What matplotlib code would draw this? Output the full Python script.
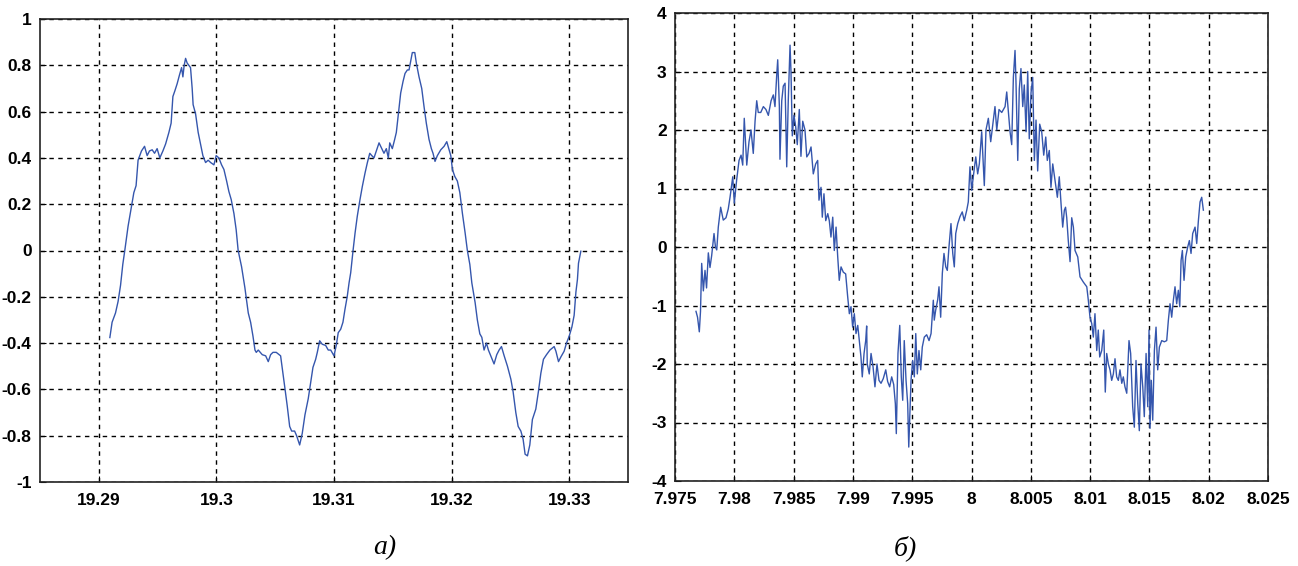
import matplotlib
matplotlib.use("Agg")
import matplotlib.pyplot as plt

# ---------------- data: panel a) ----------------
a_time = [19.29094, 19.29113, 19.29142, 19.29164, 19.29185, 19.29204, 19.29221, 19.29249, 19.29278, 19.29298,
          19.29317, 19.29334, 19.29363, 19.29389, 19.29411, 19.29431, 19.29454, 19.29474, 19.29496, 19.29519,
          19.29545, 19.29568, 19.29596, 19.29615, 19.29630, 19.29647, 19.29666, 19.29687, 19.29704, 19.29715,
          19.29726, 19.29738, 19.29751, 19.29780, 19.29794, 19.29802, 19.29823, 19.29845, 19.29865, 19.29885,
          19.29908, 19.29930, 19.29951, 19.29979, 19.29998, 19.30021, 19.30044, 19.30064, 19.30087, 19.30106,
          19.30126, 19.30149, 19.30168, 19.30185, 19.30214, 19.30242, 19.30271, 19.30291, 19.30311, 19.30328,
          19.30339, 19.30356, 19.30390, 19.30419, 19.30441, 19.30461, 19.30481, 19.30509, 19.30546, 19.30560,
          19.30580, 19.30602, 19.30623, 19.30640, 19.30665, 19.30682, 19.30708, 19.30730, 19.30753, 19.30781,
          19.30802, 19.30821, 19.30844, 19.30858, 19.30878, 19.30900, 19.30929, 19.30951, 19.30972, 19.31000,
          19.31019, 19.31036, 19.31057, 19.31076, 19.31093, 19.31113, 19.31128, 19.31142, 19.31162, 19.31179,
          19.31198, 19.31221, 19.31241, 19.31264, 19.31283, 19.31304, 19.31321, 19.31340, 19.31360, 19.31383,
          19.31406, 19.31425, 19.31445, 19.31462, 19.31474, 19.31496, 19.31516, 19.31530, 19.31547, 19.31567,
          19.31587, 19.31604, 19.31624, 19.31638, 19.31653, 19.31666, 19.31687, 19.31700, 19.31723, 19.31746,
          19.31766, 19.31785, 19.31808, 19.31828, 19.31842, 19.31859, 19.31879, 19.31908, 19.31936, 19.31959,
          19.31979, 19.31993, 19.32007, 19.32027, 19.32049, 19.32070, 19.32092, 19.32115, 19.32134, 19.32155,
          19.32172, 19.32200, 19.32219, 19.32240, 19.32257, 19.32276, 19.32296, 19.32313, 19.32333, 19.32361,
          19.32384, 19.32404, 19.32424, 19.32447, 19.32475, 19.32504, 19.32523, 19.32546, 19.32566, 19.32589,
          19.32608, 19.32625, 19.32645, 19.32665, 19.32687, 19.32716, 19.32738, 19.32759, 19.32781, 19.32807,
          19.32836, 19.32872, 19.32887, 19.32909, 19.32929, 19.32957, 19.32977, 19.33000, 19.33023, 19.33042,
          19.33057, 19.33070, 19.33079, 19.33099]
a_value = [-0.376, -0.31, -0.27, -0.22, -0.15, -0.06, 0.0, 0.105, 0.19, 0.25,
           0.28, 0.39, 0.43, 0.45, 0.41, 0.43, 0.435, 0.42, 0.44, 0.40,
           0.43, 0.46, 0.51, 0.55, 0.665, 0.69, 0.72, 0.76, 0.79, 0.75,
           0.80, 0.83, 0.81, 0.79, 0.70, 0.63, 0.59, 0.51, 0.46, 0.41,
           0.38, 0.39, 0.38, 0.37, 0.41, 0.40, 0.37, 0.35, 0.30, 0.255,
           0.22, 0.16, 0.09, 0.0, -0.07, -0.16, -0.27, -0.31, -0.37, -0.43,
           -0.44, -0.43, -0.45, -0.455, -0.48, -0.45, -0.44, -0.44, -0.455, -0.51,
           -0.585, -0.67, -0.76, -0.78, -0.78, -0.80, -0.84, -0.79, -0.71, -0.64,
           -0.57, -0.505, -0.47, -0.44, -0.39, -0.405, -0.41, -0.43, -0.43, -0.455,
           -0.41, -0.355, -0.34, -0.31, -0.255, -0.197, -0.14, -0.096, 0.0, 0.075,
           0.148, 0.22, 0.277, 0.335, 0.378, 0.42, 0.41, 0.40, 0.43, 0.465,
           0.44, 0.42, 0.44, 0.40, 0.465, 0.44, 0.48, 0.51, 0.59, 0.68,
           0.73, 0.765, 0.78, 0.78, 0.82, 0.855, 0.855, 0.81, 0.75, 0.70,
           0.62, 0.55, 0.48, 0.44, 0.42, 0.385, 0.41, 0.435, 0.45, 0.47,
           0.435, 0.41, 0.35, 0.32, 0.30, 0.25, 0.16, 0.076, 0.0, -0.06,
           -0.14, -0.225, -0.30, -0.36, -0.375, -0.43, -0.40, -0.43, -0.455, -0.49,
           -0.45, -0.43, -0.415, -0.455, -0.50, -0.556, -0.61, -0.70, -0.76, -0.78,
           -0.815, -0.88, -0.887, -0.84, -0.73, -0.685, -0.61, -0.53, -0.47, -0.45,
           -0.43, -0.415, -0.435, -0.48, -0.46, -0.435, -0.40, -0.37, -0.33, -0.28,
           -0.18, -0.125, -0.055, -0.003]

a_xticks = [19.29, 19.30, 19.31, 19.32, 19.33]
a_xticklabels = ["19.29", "19.3", "19.31", "19.32", "19.33"]
a_yticks = [-1, -0.8, -0.6, -0.4, -0.2, 0, 0.2, 0.4, 0.6, 0.8, 1]
a_yticklabels = ["-1", "-0.8", "-0.6", "-0.4", "-0.2", "0", "0.2", "0.4", "0.6", "0.8", "1"]

# ---------------- data: panel б) ----------------
b_time = [7.97677, 7.97690, 7.97705, 7.97715, 7.97725, 7.97739, 7.97753, 7.97766, 7.97781, 7.97795,
          7.97809, 7.97829, 7.97841, 7.97852, 7.97865, 7.97885, 7.97907, 7.97930, 7.97949, 7.97964,
          7.97987, 7.98000, 7.98020, 7.98040, 7.98057, 7.98071, 7.98084, 7.98105, 7.98124, 7.98141,
          7.98160, 7.98175, 7.98189, 7.98202, 7.98223, 7.98245, 7.98267, 7.98287, 7.98310, 7.98329,
          7.98343, 7.98358, 7.98366, 7.98380, 7.98385, 7.98400, 7.98413, 7.98428, 7.98442, 7.98455,
          7.98470, 7.98478, 7.98489, 7.98503, 7.98518, 7.98531, 7.98548, 7.98562, 7.98577, 7.98596,
          7.98611, 7.98630, 7.98647, 7.98666, 7.98686, 7.98703, 7.98714, 7.98731, 7.98742, 7.98756,
          7.98771, 7.98788, 7.98801, 7.98815, 7.98830, 7.98843, 7.98858, 7.98872, 7.98885, 7.98900,
          7.98919, 7.98939, 7.98956, 7.98970, 7.98984, 7.98998, 7.99012, 7.99026, 7.99041, 7.99054,
          7.99068, 7.99079, 7.99094, 7.99108, 7.99116, 7.99121, 7.99138, 7.99153, 7.99170, 7.99186,
          7.99203, 7.99220, 7.99237, 7.99256, 7.99277, 7.99293, 7.99310, 7.99327, 7.99344, 7.99358,
          7.99366, 7.99380, 7.99395, 7.99408, 7.99420, 7.99433, 7.99448, 7.99462, 7.99471, 7.99479,
          7.99490, 7.99504, 7.99518, 7.99530, 7.99543, 7.99557, 7.99572, 7.99585, 7.99602, 7.99622,
          7.99642, 7.99659, 7.99670, 7.99678, 7.99686, 7.99698, 7.99715, 7.99726, 7.99740, 7.99754,
          7.99768, 7.99783, 7.99796, 7.99810, 7.99827, 7.99842, 7.99855, 7.99867, 7.99884, 7.99903,
          7.99922, 7.99939, 7.99960, 7.99973, 7.99987, 8.00002, 8.00015, 8.00036, 8.00052, 8.00066,
          8.00086, 8.00108, 8.00122, 8.00142, 8.00162, 8.00184, 8.00198, 8.00213, 8.00232, 8.00255,
          8.00283, 8.00297, 8.00325, 8.00339, 8.00353, 8.00367, 8.00375, 8.00390, 8.00403, 8.00417,
          8.00432, 8.00445, 8.00460, 8.00474, 8.00487, 8.00502, 8.00516, 8.00530, 8.00544, 8.00558,
          8.00575, 8.00592, 8.00609, 8.00626, 8.00639, 8.00656, 8.00670, 8.00685, 8.00704, 8.00724,
          8.00740, 8.00755, 8.00769, 8.00783, 8.00793, 8.00803, 8.00816, 8.00831, 8.00845, 8.00859,
          8.00873, 8.00896, 8.00915, 8.00943, 8.00972, 8.00985, 8.00999, 8.01014, 8.01027, 8.01041,
          8.01056, 8.01069, 8.01081, 8.01098, 8.01115, 8.01128, 8.01140, 8.01154, 8.01168, 8.01182,
          8.01196, 8.01210, 8.01224, 8.01238, 8.01252, 8.01267, 8.01280, 8.01294, 8.01309, 8.01328,
          8.01342, 8.01359, 8.01373, 8.01387, 8.01402, 8.01415, 8.01429, 8.01444, 8.01457, 8.01472,
          8.01486, 8.01497, 8.01505, 8.01516, 8.01528, 8.01542, 8.01556, 8.01570, 8.01584, 8.01604,
          8.01626, 8.01646, 8.01660, 8.01674, 8.01688, 8.01702, 8.01716, 8.01730, 8.01744, 8.01756,
          8.01767, 8.01778, 8.01792, 8.01806, 8.01823, 8.01837, 8.01851, 8.01865, 8.01885, 8.01899,
          8.01913, 8.01927, 8.01941, 8.01955]
b_value = [-1.1, -1.2, -1.45, -1.1, -0.28, -0.75, -0.4, -0.7, -0.1, -0.35,
           -0.15, 0.23, 0.0, -0.05, 0.34, 0.68, 0.46, 0.5, 0.65, 0.85,
           1.2, 0.75, 1.15, 1.48, 1.57, 1.4, 2.2, 1.4, 1.8, 2.0,
           1.6, 2.15, 2.5, 2.3, 2.3, 2.4, 2.35, 2.25, 2.5, 2.6,
           2.4, 2.95, 3.2, 2.4, 1.5, 2.5, 2.75, 2.8, 1.37, 2.5,
           3.45, 3.0, 1.9, 2.25, 2.05, 1.75, 2.35, 1.55, 2.15, 2.0,
           1.54, 1.6, 1.71, 1.25, 1.42, 1.48, 0.8, 1.02, 0.51, 0.91,
           0.45, 0.57, 0.45, 0.17, 0.51, -0.06, 0.34, -0.17, -0.57, -0.34,
           -0.43, -0.46, -0.85, -1.14, -1.02, -1.37, -1.14, -1.48, -1.34, -1.6,
           -1.88, -2.22, -1.82, -1.6, -1.35, -2.0, -2.17, -1.82, -2.05, -2.39,
           -2.0, -2.28, -2.33, -2.25, -2.1, -2.3, -2.39, -2.22, -2.35, -2.68,
           -3.19, -1.82, -1.34, -2.22, -2.62, -1.6, -2.28, -2.68, -3.42, -2.96,
           -2.28, -1.94, -2.22, -1.48, -2.17, -1.77, -2.1, -1.71, -1.54, -1.5,
           -1.6, -1.48, -1.14, -0.91, -1.25, -1.08, -0.9, -0.68, -1.2, -0.45,
           -0.11, -0.34, -0.4, 0.0, 0.4, -0.11, -0.34, 0.23, 0.4, 0.52,
           0.6, 0.45, 0.63, 0.77, 1.37, 0.97, 1.2, 1.54, 1.25, 1.42,
           1.97, 1.05, 2.0, 2.2, 1.8, 2.17, 2.4, 2.0, 2.35, 2.3,
           2.4, 2.65, 1.97, 1.75, 2.9, 3.36, 2.83, 1.48, 2.7, 3.05,
           2.4, 2.77, 1.97, 3.0, 1.85, 2.64, 2.9, 1.48, 2.17, 1.3,
           2.1, 1.97, 1.57, 1.88, 1.48, 1.65, 1.02, 1.42, 1.14, 0.85,
           1.2, 0.74, 0.34, 0.63, 0.68, 0.5, 0.11, -0.25, 0.5, 0.34,
           -0.06, -0.17, -0.51, -0.6, -0.68, -0.91, -1.2, -1.31, -1.54, -1.14,
           -1.77, -1.42, -1.88, -1.77, -1.42, -2.48, -1.82, -2.0, -2.1, -2.28,
           -2.17, -1.91, -2.22, -2.28, -2.1, -2.33, -2.22, -2.39, -2.5, -1.6,
           -1.82, -2.73, -3.08, -1.94, -2.68, -3.14, -2.0, -2.39, -2.9, -1.82,
           -2.73, -1.42, -3.1, -2.28, -2.96, -1.77, -1.37, -2.1, -1.71, -1.6,
           -1.62, -1.6, -1.25, -0.97, -1.2, -0.91, -0.68, -0.97, -0.74, -1.02,
           -0.23, -0.06, -0.57, -0.17, 0.0, 0.11, -0.11, 0.23, 0.34, 0.06,
           0.45, 0.77, 0.85, 0.63]

b_xticks = [7.975, 7.98, 7.985, 7.99, 7.995, 8.0, 8.005, 8.01, 8.015, 8.02, 8.025]
b_xticklabels = ["7.975", "7.98", "7.985", "7.99", "7.995", "8", "8.005", "8.01", "8.015", "8.02", "8.025"]
b_yticks = [-4, -3, -2, -1, 0, 1, 2, 3, 4]
b_yticklabels = ["-4", "-3", "-2", "-1", "0", "1", "2", "3", "4"]

panel_labels = ["а)", "б)"]

# ---------------- drawing ----------------
W, H = 1298, 566
fig = plt.figure(figsize=(W / 100, H / 100), dpi=100)
fig.patch.set_facecolor("white")

line_color = "#3556ad"
tick_font = dict(family=["Liberation Sans", "DejaVu Sans"], weight="bold", size=12.5)

ax1 = fig.add_axes([40 / W, 1 - 482 / H, 588 / W, 463 / H])
ax2 = fig.add_axes([675 / W, 1 - 481 / H, 593 / W, 468 / H])


def style(ax, xticks, xlabels, yticks, ylabels, xlim, ylim):
    ax.set_xlim(*xlim)
    ax.set_ylim(*ylim)
    ax.set_xticks(xticks)
    ax.set_xticklabels(xlabels, fontdict=tick_font)
    ax.set_yticks(yticks)
    ax.set_yticklabels(ylabels, fontdict=tick_font)
    ax.tick_params(direction="in", length=4, width=0.8, colors="black", pad=6)
    ax.tick_params(axis="x", pad=8)
    ax.grid(True, color="black", linestyle=(0, (3.2, 3.2)), linewidth=1.0)
    ax.set_axisbelow(True)
    for s in ax.spines.values():
        s.set_color("#222222")
        s.set_linewidth(1.2)


ax1.plot(a_time, a_value, color=line_color, linewidth=1.0, zorder=3)
style(ax1, a_xticks, a_xticklabels, a_yticks, a_yticklabels, (19.285, 19.335), (-1, 1))

ax2.plot(b_time, b_value, color=line_color, linewidth=1.0, zorder=3)
style(ax2, b_xticks, b_xticklabels, b_yticks, b_yticklabels, (7.975, 8.025), (-4, 4))

label_font = dict(family=["Liberation Serif", "DejaVu Serif"], style="italic", size=20)
fig.text(385 / W, 1 - 548 / H, panel_labels[0], ha="center", va="center", fontdict=label_font)
fig.text(905 / W, 1 - 548 / H, panel_labels[1], ha="center", va="center", fontdict=label_font)

fig.savefig("out.png", dpi=100, facecolor="white")
